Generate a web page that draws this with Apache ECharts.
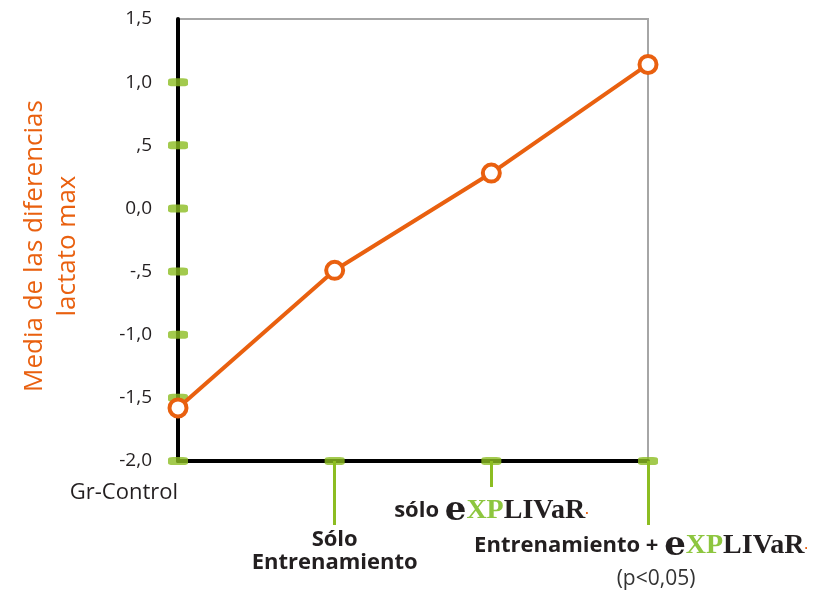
<!DOCTYPE html>
<html>
<head>
<meta charset="utf-8">
<script src="https://cdn.jsdelivr.net/npm/echarts@6/dist/echarts.min.js"></script>
<style>
  html, body { margin: 0; padding: 0; background: #fff; }
  #chart { width: 818px; height: 591px; }
</style>
</head>
<body>
<div id="chart"></div>
<script>
// datos
var categories = ['Gr-Control', 'Sólo Entrenamiento', 'sólo EXPLIVAR', 'Entrenamiento + EXPLIVAR'];
var medias = [-1.58, -0.49, 0.28, 1.14];
var yTicks = [-2.0, -1.5, -1.0, -0.5, 0.0, 0.5, 1.0, 1.5];
var yTickLabels = ['-2,0', '-1,5', '-1,0', '-,5', '0,0', ',5', '1,0', '1,5'];
var yName = 'Media de las diferencias\nlactato max';

var naranja = '#e9600f';
var verde = '#8cbd22';
var negro = '#231f20';

// marcas verdes: en el eje Y (menos extremos) y en cada categoria
var pills = [];
for (var i = 1; i < yTicks.length - 1; i++) pills.push([0, yTicks[i]]);
for (var j = 0; j < categories.length; j++) pills.push([j, yTicks[0]]);

var logoRich = {
  e: { fontFamily: 'DejaVu Serif', fontSize: 34, color: negro, fontWeight: 'bold' },
  xp: { fontFamily: 'Liberation Serif', fontSize: 28, color: '#8dc63f', fontWeight: 'bold' },
  liv: { fontFamily: 'Liberation Serif', fontSize: 28, color: negro, fontWeight: 'bold' },
  dot: { fontSize: 12, color: naranja, fontWeight: 'bold' },
  b: { fontFamily: 'Open Sans', fontSize: 22, fontWeight: 'bold', color: negro },
  p: { fontFamily: 'Open Sans', fontSize: 21, color: '#333', lineHeight: 32, padding: [0, 0, 0, 30] }
};
var logo = '{e|e}{xp|XP}{liv|LIVaR}{dot|.}';

function yLabel(v) {
  var k = yTicks.indexOf(Math.round(v * 10) / 10);
  return k >= 0 ? yTickLabels[k] : '';
}

var chart = echarts.init(document.getElementById('chart'));

var baseX = {
  type: 'category',
  data: categories,
  boundaryGap: false,
  position: 'bottom',
  axisLine: { show: false, onZero: false },
  axisTick: { show: false },
  splitLine: { show: false }
};

var option = {
  backgroundColor: '#fff',
  animation: false,
  grid: {
    left: 178, right: 170, top: 19, bottom: 130,
    show: true, borderColor: '#a6a6a6', borderWidth: 2, backgroundColor: 'transparent'
  },
  xAxis: [
    Object.assign({}, baseX, {
      axisLine: { show: true, onZero: false, lineStyle: { color: '#000', width: 4 } },
      axisLabel: {
        interval: function (idx) { return idx === 0; },
        margin: 21, align: 'right',
        fontFamily: 'Open Sans', fontSize: 22, color: negro
      }
    }),
    Object.assign({}, baseX, {
      axisTick: {
        show: true,
        interval: function (idx) { return idx === 1 || idx === 3; },
        length: 64, lineStyle: { color: verde, width: 3 }
      },
      axisLabel: {
        interval: function (idx) { return idx === 1; },
        margin: 67,
        formatter: function () { return '{b|Sólo}\n{b|Entrenamiento}'; },
        lineHeight: 23,
        rich: logoRich
      }
    }),
    Object.assign({}, baseX, {
      axisTick: {
        show: true,
        interval: function (idx) { return idx === 2; },
        length: 26, lineStyle: { color: verde, width: 3 }
      },
      axisLabel: {
        interval: function (idx) { return idx === 2; },
        margin: 33,
        formatter: function () { return '{b|sólo }' + logo; },
        rich: logoRich
      }
    }),
    Object.assign({}, baseX, {
      axisLabel: {
        interval: function (idx) { return idx === 3; },
        margin: 68,
        padding: [0, 14, 0, 0],
        formatter: function () { return '{b|Entrenamiento + }' + logo + '\n{p|(p<0,05)}'; },
        rich: logoRich
      }
    })
  ],
  yAxis: {
    type: 'value',
    min: -2, max: 1.5, interval: 0.5,
    name: yName,
    nameLocation: 'middle',
    nameRotate: 90,
    nameGap: 94,
    nameTextStyle: {
      color: naranja, fontFamily: 'Open Sans', fontSize: 26, lineHeight: 33, align: 'center',
      padding: [0, 12, 0, 0]
    },
    axisLine: { show: true, lineStyle: { color: '#000', width: 4 } },
    axisTick: { show: false },
    splitLine: { show: false },
    axisLabel: {
      margin: 26,
      fontFamily: 'Open Sans', fontSize: 19, color: negro,
      formatter: yLabel
    }
  },
  series: [
    {
      type: 'scatter',
      xAxisIndex: 0,
      data: pills,
      symbol: 'roundRect',
      symbolSize: [20, 8],
      itemStyle: { color: verde },
      clip: false,
      silent: true,
      z: 3
    },
    {
      type: 'line',
      xAxisIndex: 0,
      data: medias,
      symbol: 'circle',
      symbolSize: 17,
      lineStyle: { color: naranja, width: 4 },
      itemStyle: { color: '#fff', borderColor: naranja, borderWidth: 4 },
      clip: false,
      z: 5
    }
  ]
};

chart.setOption(option);
</script>
</body>
</html>
